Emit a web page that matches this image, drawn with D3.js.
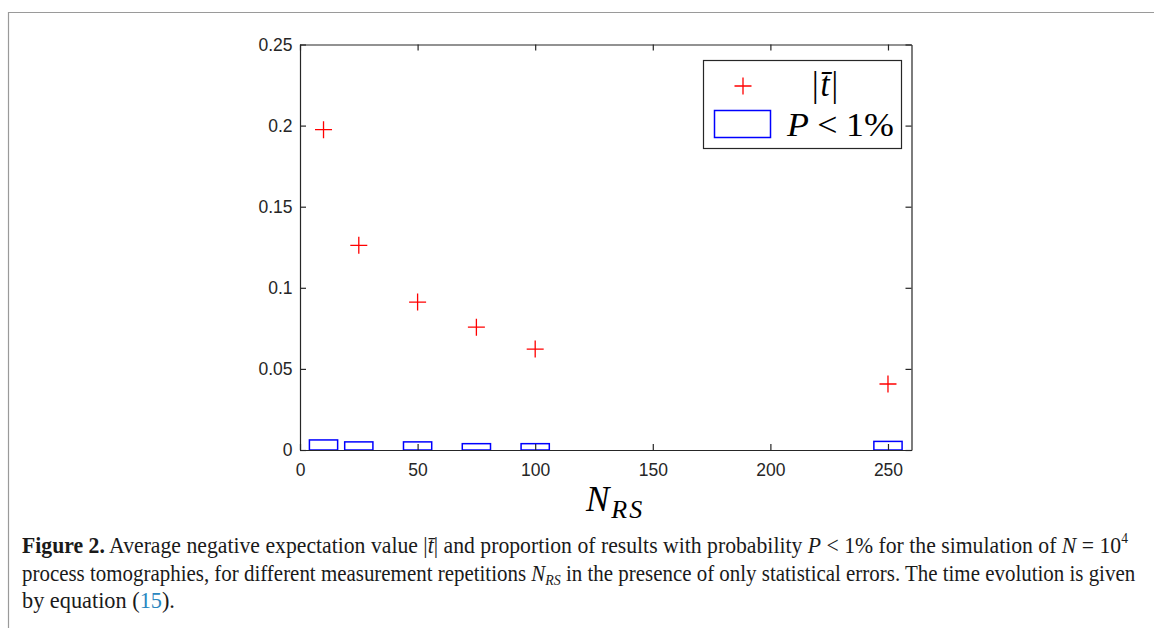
<!DOCTYPE html>
<html><head><meta charset="utf-8">
<script src="https://cdn.jsdelivr.net/npm/d3@7"></script>
<style>body{margin:0;background:#fff}</style>
</head><body>
<svg id="c" width="1154" height="628"></svg>
<script>
const nrs = [10, 25, 50, 75, 100, 250];
const tAbs = [0.1975, 0.1262, 0.0912, 0.0757, 0.0622, 0.0407];
const pLow = [0.0062, 0.0050, 0.0050, 0.0039, 0.0039, 0.0053];
const xTicks = [0, 50, 100, 150, 200, 250];
const yTicks = [0, 0.05, 0.1, 0.15, 0.2, 0.25];
const yTickLabels = ["0", "0.05", "0.1", "0.15", "0.2", "0.25"];
const barWidth = 12;

const svg = d3.select("#c");
const L = 300, R = 911.5, T = 44.5, B = 450;
const x = d3.scaleLinear().domain([0, 260]).range([L, R]);
const y = d3.scaleLinear().domain([0, 0.25]).range([B, T]);
const axisColor = "#262626";

// page frame
svg.append("path").attr("d", "M8.5,628V12.5H1154").attr("fill", "none")
  .attr("stroke", "#9a9a9a").attr("stroke-width", 1.2);

// bars
svg.append("g").selectAll("rect").data(nrs).join("rect")
  .attr("x", d => x(d - barWidth / 2)).attr("width", d => x(d + barWidth / 2) - x(d - barWidth / 2))
  .attr("y", (d, i) => y(pLow[i])).attr("height", (d, i) => y(0) - y(pLow[i]))
  .attr("fill", "none").attr("stroke", "#0000ff").attr("stroke-width", 1.5);

function styleAxis(g) {
  g.selectAll("path,line").attr("stroke", axisColor).attr("stroke-width", 1.2);
  g.selectAll("text").attr("fill", axisColor).attr("font-family", "Liberation Sans, Arial, sans-serif").attr("font-size", 17.5);
}
svg.append("g").attr("transform", `translate(0,${B})`)
  .call(d3.axisBottom(x).tickValues(xTicks).tickSize(-6).tickSizeOuter(0).tickPadding(14).tickFormat(d3.format("d")))
  .call(styleAxis);
svg.append("g").attr("transform", `translate(0,${T})`)
  .call(d3.axisTop(x).tickValues(xTicks).tickSize(-6).tickSizeOuter(0).tickFormat(""))
  .call(styleAxis);
svg.append("g").attr("transform", `translate(${L},0)`)
  .call(d3.axisLeft(y).tickValues(yTicks).tickSize(-6).tickSizeOuter(0).tickPadding(7.5).tickFormat((d, i) => yTickLabels[i]))
  .call(styleAxis);
svg.append("g").attr("transform", `translate(${R},0)`)
  .call(d3.axisRight(y).tickValues(yTicks).tickSize(-6).tickSizeOuter(0).tickFormat(""))
  .call(styleAxis);

// plus markers
const plus = "M-8.5,0H8.5M0,-8.5V8.5";
svg.append("g").selectAll("path").data(nrs).join("path")
  .attr("transform", (d, i) => `translate(${x(d)},${y(tAbs[i])})`)
  .attr("d", plus).attr("stroke", "#ff0000").attr("stroke-width", 1.3).attr("fill", "none");

const serif = "Liberation Serif, Times New Roman, serif";
function fitText(g, t, x0, yb, target) {
  const w = t.node().getBBox().width;
  g.attr("transform", `translate(${x0},${yb}) scale(${target / w},1)`);
}

// x label
{
  const xl = svg.append("text").attr("x", 586).attr("y", 511).attr("font-family", serif)
    .attr("font-style", "italic").attr("fill", "#000");
  xl.append("tspan").attr("font-size", 35).text("N");
  xl.append("tspan").attr("font-size", 26).attr("dy", 7).attr("dx", 2).attr("letter-spacing", 2).text("RS");
}

// legend
const lg = svg.append("g");
lg.append("rect").attr("x", 703.5).attr("y", 60.5).attr("width", 198).attr("height", 88)
  .attr("fill", "#fff").attr("stroke", axisColor).attr("stroke-width", 1.2);
lg.append("path").attr("transform", "translate(743,86)").attr("d", plus)
  .attr("stroke", "#ff0000").attr("stroke-width", 1.3).attr("fill", "none");
{
  const g = lg.append("g");
  const lt = g.append("text").attr("font-family", serif).attr("font-size", 36).attr("fill", "#000");
  lt.append("tspan").text("|");
  lt.append("tspan").attr("font-style", "italic").attr("dx", 2).text("t\u0304");
  lt.append("tspan").attr("dx", 2).text("|");
  fitText(g, lt, 812, 96, 26);
}
lg.append("rect").attr("x", 714.5).attr("y", 110.5).attr("width", 56).attr("height", 27)
  .attr("fill", "none").attr("stroke", "#0000ff").attr("stroke-width", 1.5);
{
  const g = lg.append("g");
  const lp = g.append("text").attr("font-family", serif).attr("font-size", 34).attr("fill", "#000");
  lp.append("tspan").attr("font-style", "italic").text("P");
  lp.append("tspan").attr("dx", 8).text("<");
  lp.append("tspan").attr("dx", 8).text("1%");
  fitText(g, lp, 787, 136, 108);
}

// caption
function capLine(yb, target, parts) {
  const g = svg.append("g");
  const t = g.append("text").attr("font-family", serif)
    .attr("font-size", 22.5).attr("fill", "#1a1a1a");
  parts.forEach(p => {
    const s = t.append("tspan").text(p.t);
    if (p.b) s.attr("font-weight", "bold");
    if (p.i) s.attr("font-style", "italic");
    if (p.c) s.attr("fill", p.c);
    if (p.dy) s.attr("dy", p.dy);
    if (p.fs) s.attr("font-size", p.fs);
  });
  fitText(g, t, 22, yb, target);
}
capLine(553, 1106, [
  {t: "Figure 2.", b: 1},
  {t: " Average negative expectation value |"},
  {t: "t\u0304", i: 1},
  {t: "| and proportion of results with probability "},
  {t: "P", i: 1},
  {t: " <  1% for the simulation of "},
  {t: "N", i: 1},
  {t: " =  10"},
  {t: "4", dy: -10, fs: 14}
]);
capLine(581, 1114, [
  {t: "process tomographies, for different measurement repetitions "},
  {t: "N", i: 1},
  {t: "RS", i: 1, dy: 4, fs: 15},
  {t: " in the presence of only statistical errors. The time evolution is given", dy: -4}
]);
capLine(608, 153, [
  {t: "by equation ("},
  {t: "15", c: "#2a87c0"},
  {t: ")."}
]);
</script>
</body></html>
